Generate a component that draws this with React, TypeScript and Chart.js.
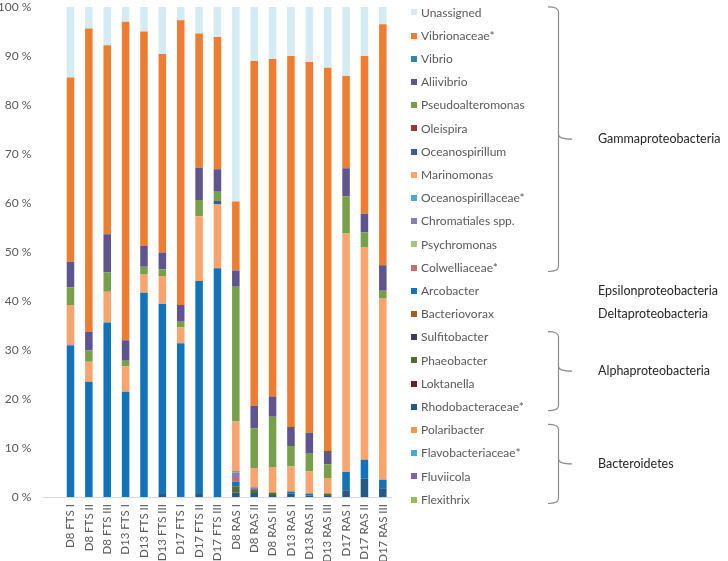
import React, { useEffect, useRef } from "react";
import { Chart, registerables } from "chart.js";

Chart.register(...registerables);

// ---- DATA ----
const categories = [
  "D8 FTS I", "D8 FTS II", "D8 FTS III", "D13 FTS I", "D13 FTS II", "D13 FTS III",
  "D17 FTS I", "D17 FTS II", "D17 FTS III", "D8 RAS I", "D8 RAS II", "D8 RAS III",
  "D13 RAS I", "D13 RAS II", "D13 RAS III", "D17 RAS I", "D17 RAS II", "D17 RAS III",
];

const yTicks = [0, 10, 20, 30, 40, 50, 60, 70, 80, 90, 100];

// legend order (top to bottom)
const unassigned = [14.5, 4.4, 7.8, 3.0, 5.0, 9.6, 2.7, 5.4, 6.1, 39.7, 11.0, 10.6, 10.0, 11.2, 12.4, 14.1, 10.1, 3.5];
const vibrionaceae = [37.6, 61.9, 38.6, 65.0, 43.8, 40.5, 58.1, 27.4, 27.0, 14.1, 70.4, 68.9, 75.7, 75.7, 78.2, 18.8, 32.2, 49.2];
const vibrio = [0, 0, 0, 0, 0, 0, 0, 0, 0, 0, 0, 0, 0, 0, 0, 0, 0, 0];
const aliivibrio = [5.2, 3.8, 7.8, 4.2, 4.2, 3.4, 3.3, 6.6, 4.6, 3.3, 4.6, 4.1, 3.9, 4.1, 2.7, 5.7, 3.8, 5.2];
const pseudoalteromonas = [3.6, 2.3, 3.9, 1.1, 1.5, 1.4, 1.3, 3.3, 1.9, 27.5, 8.1, 10.3, 4.2, 3.8, 2.8, 7.6, 3.0, 1.5];
const oleispira = [0, 0, 0, 0, 0, 0, 0, 0, 0, 0, 0, 0, 0, 0, 0, 0, 0, 0];
const oceanospirillum = [0, 0, 0, 0, 0, 0, 0, 0, 0.7, 0, 0, 0, 0, 0, 0, 0, 0, 0];
const marinomonas = [8.1, 4.1, 6.3, 5.2, 3.8, 5.7, 3.1, 13.2, 13.0, 10.1, 3.9, 5.2, 5.1, 4.5, 3.2, 48.7, 43.4, 37.1];
const oceanospirillaceae = [0, 0, 0, 0, 0, 0, 0, 0, 0, 0.3, 0, 0, 0, 0, 0, 0, 0, 0];
const chromatiales = [0.3, 0, 0, 0, 0, 0, 0.3, 0, 0, 0.9, 0.4, 0, 0, 0, 0, 0, 0, 0];
const psychromonas = [0, 0, 0, 0, 0, 0, 0, 0, 0, 0, 0, 0, 0, 0, 0, 0, 0, 0];
const colwelliaceae = [0, 0, 0, 0, 0, 0, 0, 0, 0, 1.0, 0, 0, 0, 0, 0, 0, 0, 0];
const arcobacter = [30.8, 23.5, 35.6, 21.5, 41.7, 38.8, 31.2, 43.5, 46.7, 0.9, 0, 0, 0.4, 0.4, 0, 3.7, 3.9, 1.7];
const bacteriovorax = [0, 0, 0, 0, 0, 0, 0, 0, 0, 0, 0, 0, 0, 0, 0, 0, 0, 0];
const sulfitobacter = [0, 0, 0, 0, 0, 0, 0, 0, 0, 0, 0, 0, 0, 0, 0, 0, 0, 0];
const phaeobacter = [0, 0, 0, 0, 0, 0, 0, 0, 0, 1.3, 0.8, 0.5, 0, 0, 0.5, 0, 0, 0];
const loktanella = [0, 0, 0, 0, 0, 0, 0, 0, 0, 0, 0, 0, 0, 0, 0, 0, 0, 0];
const rhodobacteraceae = [0, 0, 0, 0, 0, 0.6, 0, 0.6, 0, 0.9, 0.8, 0.4, 0.7, 0.3, 0.2, 1.4, 3.7, 1.8];
const polaribacter = [0, 0, 0, 0, 0, 0, 0, 0, 0, 0, 0, 0, 0, 0, 0, 0, 0, 0];
const flavobacteriaceae = [0, 0, 0, 0, 0, 0, 0, 0, 0, 0, 0, 0, 0, 0, 0, 0, 0, 0];
const fluviicola = [0, 0, 0, 0, 0, 0, 0, 0, 0, 0, 0, 0, 0, 0, 0, 0, 0, 0];
const flexithrix = [0, 0, 0, 0, 0, 0, 0, 0, 0, 0, 0, 0, 0, 0, 0, 0, 0, 0];

const seriesNames = [
  "Unassigned", "Vibrionaceae*", "Vibrio", "Aliivibrio", "Pseudoalteromonas", "Oleispira",
  "Oceanospirillum", "Marinomonas", "Oceanospirillaceae*", "Chromatiales spp.", "Psychromonas",
  "Colwelliaceae*", "Arcobacter", "Bacteriovorax", "Sulfitobacter", "Phaeobacter", "Loktanella",
  "Rhodobacteraceae*", "Polaribacter", "Flavobacteriaceae*", "Fluviicola", "Flexithrix",
];
const seriesValues = [
  unassigned, vibrionaceae, vibrio, aliivibrio, pseudoalteromonas, oleispira,
  oceanospirillum, marinomonas, oceanospirillaceae, chromatiales, psychromonas,
  colwelliaceae, arcobacter, bacteriovorax, sulfitobacter, phaeobacter, loktanella,
  rhodobacteraceae, polaribacter, flavobacteriaceae, fluviicola, flexithrix,
];
const seriesColors = [
  "#D5EBF2", "#EE7D31", "#31869B", "#5F5490", "#77A04B", "#953735",
  "#376092", "#F8A46C", "#4BACC6", "#8C7BB4", "#A3C67E",
  "#C86B6B", "#1273BA", "#A85A24", "#3E3A62", "#566B32", "#6A2028",
  "#255884", "#F79646", "#43AFC9", "#7D65AA", "#9BBB59",
];

// group labels with their legend row span
const groupLabels = ["Gammaproteobacteria", "Epsilonproteobacteria", "Deltaproteobacteria", "Alphaproteobacteria", "Bacteroidetes"];
const groupFirstRow = [0, 12, 13, 14, 18];
const groupLastRow = [11, 12, 13, 17, 21];
const groupHasBrace = [true, false, false, true, true];

const FONT = "Lato, 'Open Sans', 'DejaVu Sans', sans-serif";

const overlayPlugin = {
  id: "overlay",
  afterDraw(chart: any) {
    const ctx = chart.ctx;
    const area = chart.chartArea;
    ctx.save();
    // x axis line
    ctx.strokeStyle = "#D9D9D9";
    ctx.lineWidth = 1;
    ctx.beginPath();
    ctx.moveTo(43, Math.round(area.bottom) + 0.5);
    ctx.lineTo(area.right, Math.round(area.bottom) + 0.5);
    ctx.stroke();

    // legend
    const rowY = (i: number) => 12.3 + i * 23.2;
    ctx.font = "12px " + FONT;
    ctx.textBaseline = "middle";
    ctx.textAlign = "left";
    for (let i = 0; i < seriesNames.length; i++) {
      const y = rowY(i);
      ctx.fillStyle = seriesColors[i];
      ctx.fillRect(411, Math.round(y - 3), 6, 6);
      ctx.fillStyle = "#595959";
      ctx.fillText(seriesNames[i], 421, y + 0.5);
    }

    // braces and group labels
    ctx.strokeStyle = "#8C8C8C";
    ctx.lineWidth = 1.2;
    ctx.font = "12.5px " + FONT;
    for (let g = 0; g < groupLabels.length; g++) {
      const top = rowY(groupFirstRow[g]) - 5.5;
      const bottom = rowY(groupLastRow[g]) + 4;
      const mid = groupHasBrace[g] ? (top + bottom) / 2 : rowY(groupFirstRow[g]);
      if (groupHasBrace[g]) {
        const xEnd = 548, xLine = 558.5, xTip = 572, r = 5;
        ctx.beginPath();
        ctx.moveTo(xEnd, top);
        ctx.quadraticCurveTo(xLine, top, xLine, top + r);
        ctx.lineTo(xLine, mid - r);
        ctx.quadraticCurveTo(xLine, mid, xTip, mid);
        ctx.moveTo(xLine, mid - r);
        ctx.quadraticCurveTo(xLine, mid, xLine, mid + r);
        ctx.lineTo(xLine, bottom - r);
        ctx.quadraticCurveTo(xLine, bottom, xEnd, bottom);
        ctx.stroke();
      }
      ctx.fillStyle = "#262626";
      ctx.fillText(groupLabels[g], 598, mid);
    }
    ctx.restore();
  },
};

export default function App() {
  const canvasRef = useRef<HTMLCanvasElement | null>(null);

  useEffect(() => {
    if (!canvasRef.current) return;
    const datasets = seriesNames
      .map((name, i) => ({
        label: name,
        data: seriesValues[i],
        backgroundColor: seriesColors[i],
        borderWidth: 0,
        barPercentage: 0.41,
        categoryPercentage: 1,
      }))
      .reverse();

    const chart = new Chart(canvasRef.current, {
      type: "bar",
      data: { labels: categories, datasets },
      options: {
        animation: false,
        responsive: false,
        maintainAspectRatio: false,
        layout: { padding: { top: 0, right: 336, left: 0, bottom: 0 } },
        plugins: { legend: { display: false }, tooltip: { enabled: false } },
        scales: {
          x: {
            stacked: true,
            grid: { display: false, drawTicks: false },
            border: { display: false },
            ticks: {
              autoSkip: false,
              maxRotation: 90,
              minRotation: 90,
              padding: 7,
              color: "#595959",
              font: { family: FONT, size: 11.5 },
            },
            afterFit: (scale: any) => {
              scale.height = 64;
              scale.paddingLeft = 0;
              scale.paddingRight = 0;
            },
          },
          y: {
            stacked: true,
            min: 0,
            max: 100,
            afterBuildTicks: (scale: any) => {
              scale.ticks = yTicks.map((v) => ({ value: v }));
            },
            grid: { display: false, drawTicks: false },
            border: { display: false },
            ticks: {
              padding: 30,
              color: "#595959",
              font: { family: FONT, size: 12 },
              callback: (v: any) => v + " %",
            },
            afterFit: (scale: any) => {
              scale.width = 61.3;
              scale.paddingTop = 7;
              scale.paddingBottom = 0;
            },
          },
        },
      },
      plugins: [overlayPlugin],
    });
    return () => chart.destroy();
  }, []);

  return (
    <div style={{ position: "fixed", left: 0, top: 0, width: 728, height: 561, background: "#fff" }}>
      <canvas ref={canvasRef} width={728} height={561} style={{ width: 728, height: 561 }} />
    </div>
  );
}
